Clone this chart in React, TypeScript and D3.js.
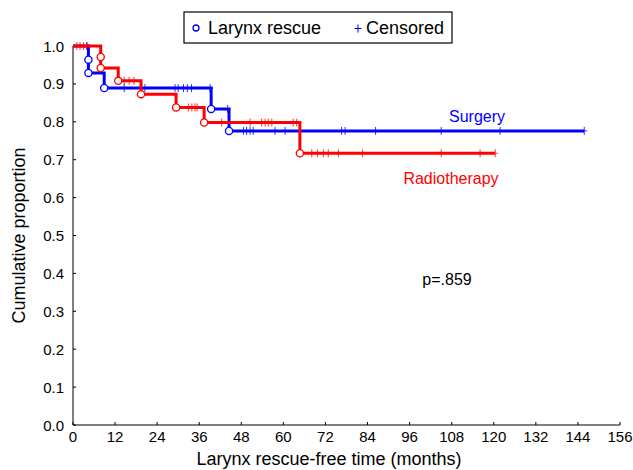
import React from "react"
import * as d3 from "d3"

// Kaplan-Meier data (months, cumulative proportion)
const surgeryEventTimes = [4.4, 4.4, 8.9, 39.4, 44.5]
const surgeryEventSurv = [0.964, 0.929, 0.889, 0.834, 0.776]
const surgeryCensored = [
	4.0, 14.6, 20.5, 29.1, 30.0, 31.5, 32.6, 33.8, 39.1, 44.1, 48.6, 49.5, 50.5, 51.4, 57.6, 60.5,
	76.6, 77.6, 86.3, 105.0, 121.8, 145.8,
]
const surgeryEnd = 145.8

const radioEventTimes = [7.9, 7.9, 12.9, 19.4, 29.4, 37.4, 64.7]
const radioEventSurv = [0.971, 0.942, 0.908, 0.873, 0.838, 0.798, 0.717]
const radioCensored = [
	1.1, 2.0, 3.0, 3.9, 14.6, 16.0, 17.4, 32.9, 33.9, 34.8, 35.4, 42.4, 50.5, 53.8, 54.8, 55.7,
	56.7, 62.8, 63.8, 68.1, 69.7, 71.4, 72.8, 75.7, 82.6, 105.0, 116.1, 120.4,
]
const radioEnd = 120.4

const xTicks = [0, 12, 24, 36, 48, 60, 72, 84, 96, 108, 120, 132, 144, 156]
const yTicks = [0, 0.1, 0.2, 0.3, 0.4, 0.5, 0.6, 0.7, 0.8, 0.9, 1.0]

const W = 633
const H = 470
const font = "Liberation Sans, Arial, Helvetica, sans-serif"

const x = d3.scaleLinear().domain([0, 156]).range([73, 620])
const y = d3.scaleLinear().domain([0, 1]).range([425, 46])

const stepLine = d3
	.line<[number, number]>()
	.x((d) => x(d[0]))
	.y((d) => y(d[1]))
	.curve(d3.curveStepAfter)

const survAt = (t: number, times: number[], surv: number[]) => {
	let s = 1
	times.forEach((tt, i) => {
		if (tt <= t) s = surv[i]
	})
	return s
}

const Curve = ({ times, surv, censored, end, color }: any) => {
	const pts: [number, number][] = [[0, 1]]
	times.forEach((t: number, i: number) => pts.push([t, surv[i]]))
	pts.push([end, surv[surv.length - 1]])
	return (
		<g>
			<path d={stepLine(pts) || ""} fill="none" stroke={color} strokeWidth={3} />
			{censored.map((t: number, i: number) => {
				const cx = x(t)
				const cy = y(survAt(t, times, surv))
				return (
					<path
						key={"c" + i}
						d={`M${cx},${cy - 4}V${cy + 4}M${cx - 3},${cy}H${cx + 3}`}
						stroke={color}
						strokeWidth={1}
						opacity={0.8}
					/>
				)
			})}
			{times.map((t: number, i: number) => (
				<circle
					key={"e" + i}
					cx={x(t)}
					cy={y(surv[i])}
					r={3.6}
					fill="white"
					stroke={color}
					strokeWidth={1.3}
				/>
			))}
		</g>
	)
}

const App = () => {
	return (
		<div style={{ position: "absolute", left: 0, top: 0 }}>
			<svg width={W} height={H} fontFamily={font}>
				<rect width={W} height={H} fill="white" />

				{/* axes */}
				<line x1={x(0)} x2={x(0)} y1={y(0)} y2={y(1)} stroke="black" strokeWidth={1} />
				<line x1={x(0)} x2={x(156)} y1={y(0)} y2={y(0)} stroke="black" strokeWidth={1} />
				{xTicks.map((t) => (
					<g key={"x" + t}>
						<line x1={x(t)} x2={x(t)} y1={y(0)} y2={y(0) - 3} stroke="black" />
						<text x={x(t)} y={y(0) + 17} textAnchor="middle" fontSize={15}>
							{t}
						</text>
					</g>
				))}
				{yTicks.map((t) => (
					<g key={"y" + t}>
						<line x1={x(0)} x2={x(0) + 3} y1={y(t)} y2={y(t)} stroke="black" />
						<text x={x(0) - 9} y={y(t) + 5.5} textAnchor="end" fontSize={15}>
							{t.toFixed(1)}
						</text>
					</g>
				))}
				<text x={329} y={465} textAnchor="middle" fontSize={18}>
					Larynx rescue-free time (months)
				</text>
				<text
					transform={`translate(25, ${y(0.5)}) rotate(-90)`}
					textAnchor="middle"
					fontSize={18}
				>
					Cumulative proportion
				</text>

				<Curve
					times={surgeryEventTimes}
					surv={surgeryEventSurv}
					censored={surgeryCensored}
					end={surgeryEnd}
					color="#0000ff"
				/>
				<Curve
					times={radioEventTimes}
					surv={radioEventSurv}
					censored={radioCensored}
					end={radioEnd}
					color="#ff0000"
				/>

				<text x={477} y={122} textAnchor="middle" fontSize={16} fill="#0000ff">
					Surgery
				</text>
				<text x={451} y={184} textAnchor="middle" fontSize={16} fill="#ff0000">
					Radiotherapy
				</text>
				<text x={447} y={285} textAnchor="middle" fontSize={16}>
					p=.859
				</text>

				{/* legend */}
				<rect x={184} y={12} width={268} height={31} fill="white" stroke="black" strokeWidth={1.2} />
				<circle cx={196} cy={28} r={3} fill="white" stroke="#0000ff" strokeWidth={1.3} />
				<text x={208} y={34} fontSize={18}>
					Larynx rescue
				</text>
				<path d="M358,24.5V32.5M354.5,28.5H361.5" stroke="#0000ff" strokeWidth={1} />
				<text x={366} y={34} fontSize={18}>
					Censored
				</text>
			</svg>
		</div>
	)
}

export default App
